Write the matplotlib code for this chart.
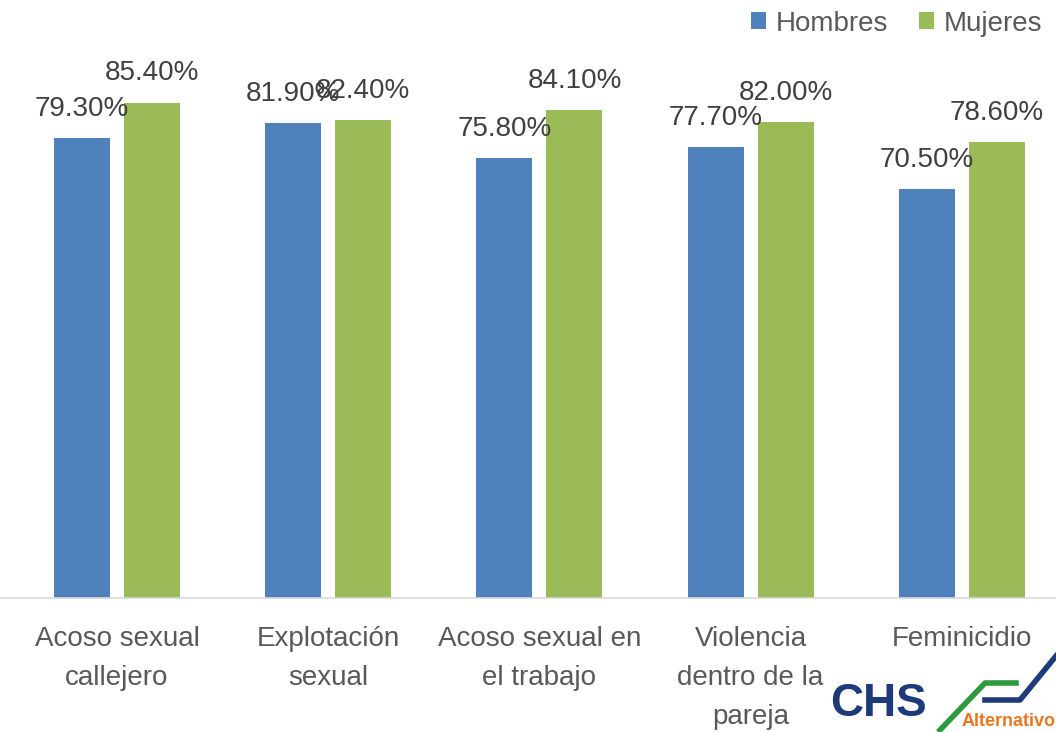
import matplotlib
matplotlib.use('Agg')
import matplotlib.pyplot as plt
from matplotlib.lines import Line2D
import numpy as np

categorias = ['Acoso sexual\ncallejero', 'Explotación\nsexual', 'Acoso sexual en\nel trabajo',
              'Violencia\ndentro de la\npareja', 'Feminicidio']
hombres = [79.3, 81.9, 75.8, 77.7, 70.5]
mujeres = [85.4, 82.4, 84.1, 82.0, 78.6]

plt.rcParams['font.family'] = ['Liberation Sans', 'DejaVu Sans']

fig = plt.figure(figsize=(10.56, 7.32), dpi=100)
ax = fig.add_axes([0, 134 / 732, 1, 598 / 732])

x = np.arange(len(categorias))
w = 0.265
off = 0.166
b1 = ax.bar(x - off, hombres, w, color='#4f81bd', label='Hombres')
b2 = ax.bar(x + off, mujeres, w, color='#9bbb59', label='Mujeres')

for bars, vals in ((b1, hombres), (b2, mujeres)):
    for b, v in zip(bars, vals):
        ax.text(b.get_x() + b.get_width() / 2, v + 2.8, '%.2f%%' % v,
                ha='center', va='bottom', fontsize=20, color='#404040')

ax.set_xlim(-0.554, 4.446)
ax.set_ylim(0, 103.1)
for s in ['top', 'right', 'left']:
    ax.spines[s].set_visible(False)
ax.spines['bottom'].set_color('#d9d9d9')
ax.spines['bottom'].set_linewidth(1.2)
ax.set_yticks([])
ax.set_xticks(x)
ax.set_xticklabels(categorias, fontsize=20, color='#595959', linespacing=1.66)
ax.tick_params(axis='x', length=0, pad=20)

ax.legend(loc='upper right', bbox_to_anchor=(1.003, 1.01), ncol=2, frameon=False,
          fontsize=20, handlelength=0.55, handleheight=0.55, handletextpad=0.36,
          columnspacing=1.1, labelcolor='#595959', borderaxespad=0.2)

# logo CHS Alternativo
fig.text(830 / 1056, 1 - 726 / 732, 'CHS', fontsize=33, fontweight='bold',
         color='#1f3a7a', ha='left', va='bottom', fontstretch='condensed')
fig.add_artist(Line2D([940 / 1056, 985 / 1056, 1016 / 1056],
                      [1 - 730 / 732, 1 - 683 / 732, 1 - 683 / 732],
                      color='#2e9a3e', lw=4, transform=fig.transFigure))
fig.add_artist(Line2D([985 / 1056, 1020 / 1056, 1056 / 1056],
                      [1 - 700 / 732, 1 - 700 / 732, 1 - 656 / 732],
                      color='#1f3a7a', lw=4, transform=fig.transFigure))
fig.text(962 / 1056, 1 - 730 / 732, 'Alternativo', fontsize=13, fontweight='bold',
         color='#e87722', ha='left', va='bottom')

fig.savefig('out.png', dpi=100)
